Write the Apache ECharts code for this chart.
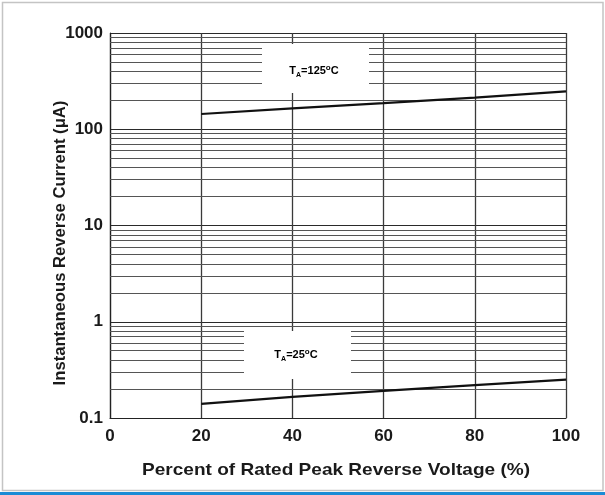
<!DOCTYPE html>
<html>
<head>
<meta charset="utf-8">
<script src="https://cdn.jsdelivr.net/npm/echarts@6/dist/echarts.min.js"></script>
<style>
html,body{margin:0;padding:0;background:#fff;}
#chart{width:605px;height:495px;}
</style>
</head>
<body>
<div id="chart"></div>
<script>
// ---- data ----
const voltagePct = [20, 40, 60, 80, 100];
const current125C = [144, 165, 187, 213, 248];
const current25C = [0.140, 0.166, 0.191, 0.220, 0.251];
const xTickLabels = ['0', '20', '40', '60', '80', '100'];
const yTickLabels = ['0.1', '1', '10', '100', '1000'];
const yDecades = [0.1, 1, 10, 100];
const minorMultipliers = [2, 3, 4, 5, 6, 7, 8, 9];
const xTitle = 'Percent of Rated Peak Reverse Voltage (%)';
const yTitle = 'Instantaneous Reverse Current (\u03bcA)';

const minorLines = [];
yDecades.forEach(d => minorMultipliers.forEach(m => minorLines.push({ yAxis: +(d * m).toPrecision(3) })));

const font = '"Liberation Sans", Arial, sans-serif';
const chart = echarts.init(document.getElementById('chart'), null, { renderer: 'canvas' });

function yLabel(v) {
  const idx = Math.round(Math.log10(v)) + 1;
  return yTickLabels[idx] !== undefined ? yTickLabels[idx] : '';
}
function xLabel(v) {
  const idx = Math.round(v / 20);
  return xTickLabels[idx] !== undefined ? xTickLabels[idx] : '';
}

const annoRich = {
  a: { fontSize: 11, fontWeight: 'bold', fontFamily: font, color: '#111', lineHeight: 15 },
  s: { fontSize: 7, fontWeight: 'bold', fontFamily: font, color: '#111', lineHeight: 15, verticalAlign: 'bottom' },
  o: { fontSize: 8, fontWeight: 'bold', fontFamily: font, color: '#111', lineHeight: 15, verticalAlign: 'top' }
};

const option = {
  backgroundColor: '#fff',
  animation: false,
  grid: { left: 110, right: 39, top: 33, bottom: 77, containLabel: false },
  xAxis: {
    type: 'value', min: 0, max: 100, interval: 20,
    axisLine: { show: true, lineStyle: { color: '#222', width: 1.2 } },
    axisTick: { show: false },
    axisLabel: { formatter: xLabel, color: '#1a1a1a', fontSize: 17, fontWeight: 'bold', fontFamily: font, margin: 10 },
    splitLine: { show: true, lineStyle: { color: '#3a3a3a', width: 1.3 } }
  },
  yAxis: {
    type: 'log', logBase: 10, min: 0.1, max: 1000,
    axisLine: { show: true, lineStyle: { color: '#222', width: 1.2 } },
    axisTick: { show: false },
    minorTick: { show: false },
    axisLabel: { formatter: yLabel, color: '#1a1a1a', fontSize: 17, fontWeight: 'bold', fontFamily: font, margin: 7 },
    splitLine: { show: true, lineStyle: { color: '#2a2a2a', width: 1.2 } }
  },
  graphic: [
    { type: 'rect', shape: { x: 2.5, y: 2.5, width: 600.5, height: 488 }, style: { fill: 'none', stroke: '#c4c4c4', lineWidth: 1.5 }, z: 0, silent: true },
    { type: 'rect', shape: { x: 0, y: 492, width: 605, height: 3 }, style: { fill: '#1a8bd5' }, z: 0, silent: true },
    { type: 'rect', shape: { x: 262, y: 44, width: 107, height: 49 }, style: { fill: '#fff' }, z: 50, silent: true },
    { type: 'text', x: 314, y: 71, style: { text: '{a|T}{s|A}{a|=125}{o|o}{a|C}', rich: annoRich, align: 'center', verticalAlign: 'middle' }, z: 51 },
    { type: 'rect', shape: { x: 244, y: 331, width: 107, height: 48 }, style: { fill: '#fff' }, z: 50, silent: true },
    { type: 'text', x: 296, y: 355, style: { text: '{a|T}{s|A}{a|=25}{o|o}{a|C}', rich: annoRich, align: 'center', verticalAlign: 'middle' }, z: 51 },
    { type: 'text', x: 61, y: 243, rotation: Math.PI / 2, scaleX: 1.04, style: { text: yTitle, fill: '#1a1a1a', fontSize: 16, fontWeight: 'bold', fontFamily: font, align: 'center', verticalAlign: 'middle' }, z: 51 },
    { type: 'text', x: 336, y: 470, scaleX: 1.12, style: { text: xTitle, fill: '#1a1a1a', fontSize: 17, fontWeight: 'bold', fontFamily: font, align: 'center', verticalAlign: 'middle' }, z: 51 }
  ],
  series: [
    {
      type: 'line', data: [], silent: true, z: 1,
      markLine: {
        silent: true, symbol: ['none', 'none'], label: { show: false },
        lineStyle: { color: '#555', width: 1.1, type: 'solid' },
        animation: false,
        data: minorLines
      }
    },
    {
      type: 'line', name: 'TA=125°C', data: voltagePct.map((x, i) => [x, current125C[i]]),
      symbol: 'none', smooth: false, lineStyle: { color: '#111', width: 2.2 }, z: 10
    },
    {
      type: 'line', name: 'TA=25°C', data: voltagePct.map((x, i) => [x, current25C[i]]),
      symbol: 'none', smooth: false, lineStyle: { color: '#111', width: 2.2 }, z: 10
    }
  ]
};
chart.setOption(option);
</script>
</body>
</html>
